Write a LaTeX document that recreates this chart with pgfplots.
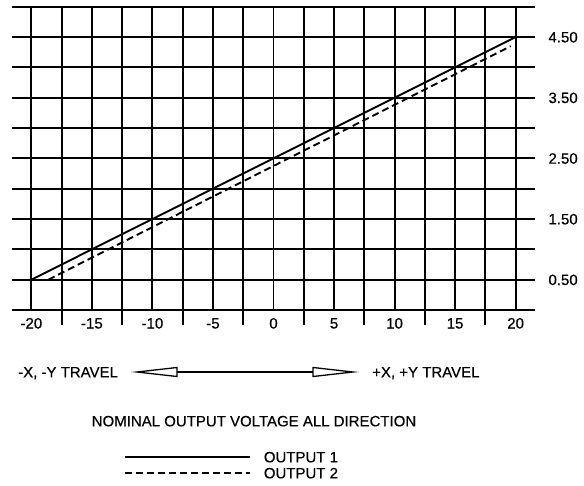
\documentclass[border=0pt]{standalone}
\usepackage{fontspec}
\setmainfont{Liberation Sans}[FakeBold=0.4,AutoFakeBold=0.4]
\usepackage{pgfplots}
\pgfplotsset{compat=1.18}
\begin{document}
\begin{tikzpicture}[font=\fontsize{15bp}{18bp}\selectfont\bfseries]
\useasboundingbox (0,0) rectangle (584bp,-486bp);
\begin{axis}[
  at={(12bp,-310bp)}, anchor=south west,
  scale only axis, width=523bp, height=303.3bp,
  xmin=-21.6, xmax=21.6, ymin=0, ymax=5,
  clip=false,
  axis line style={draw=none},
  xtick={-20,-15,...,20},
  xticklabels={-20,-15,-10,-5,0,5,10,15,20},
  minor xtick={-17.5,-12.5,...,17.5},
  ytick={0.5,1.5,2.5,3.5,4.5},
  yticklabels={0.50,1.50,2.50,3.50,4.50},
  minor ytick={0,1,2,3,4,5},
  grid=both,
  major grid style={black, line width=1.9bp},
  minor grid style={black, line width=1.9bp},
  xtick pos=left, ytick pos=right,
  yticklabel pos=right,
  tick align=outside,
  major tick length=0pt,
  minor tick length=15bp,
  major tick style={draw=none},
  minor x tick style={black, line width=1.9bp},
  minor y tick style={draw=none},
  /pgf/number format/assume math mode=true,
  xticklabel style={anchor=north, inner sep=0pt, text height=10.7bp, text depth=0pt, yshift=-7.6bp},
  yticklabel style={anchor=west, inner sep=0pt, text height=10.7bp, text depth=0pt, xshift=13.3bp},
  legend style={draw=none, fill=none, inner sep=0pt, outer sep=0pt,
    at={(0.2141,-0.467)}, anchor=north west,
    nodes={inner sep=0pt, text height=10.7bp, text depth=0pt},
    row sep=5.3bp, column sep=13bp},
  legend cell align=left,
  legend image code/.code={\draw[#1] (0bp,0bp) -- (125bp,0bp);},
]
\addplot[black, line width=1.9bp] coordinates {(-20,0.5) (20,4.5)};
\addplot[black, line width=1.9bp, dash pattern=on 7bp off 4bp] coordinates {(-18.6,0.5) (19.6,4.35)};
\legend{OUTPUT 1, OUTPUT 2}
\end{axis}
\draw[line width=1.3bp] (137bp,-372bp) -- (177bp,-367.5bp) -- (177bp,-376.5bp) -- cycle;
\draw[line width=1.3bp] (177bp,-372bp) -- (313bp,-372bp);
\draw[line width=1.3bp] (313bp,-367.5bp) -- (353bp,-372bp) -- (313bp,-376.5bp) -- cycle;
\node[anchor=west, inner sep=0pt, text height=10.7bp, text depth=0pt] at (18bp,-372bp) {-X, -Y TRAVEL};
\node[anchor=west, inner sep=0pt, text height=10.7bp, text depth=0pt] at (372bp,-372bp) {+X, +Y TRAVEL};
\node[anchor=center, inner sep=0pt, text height=10.7bp, text depth=0pt] at (254bp,-421bp) {NOMINAL OUTPUT VOLTAGE ALL DIRECTION};
\end{tikzpicture}
\end{document}
